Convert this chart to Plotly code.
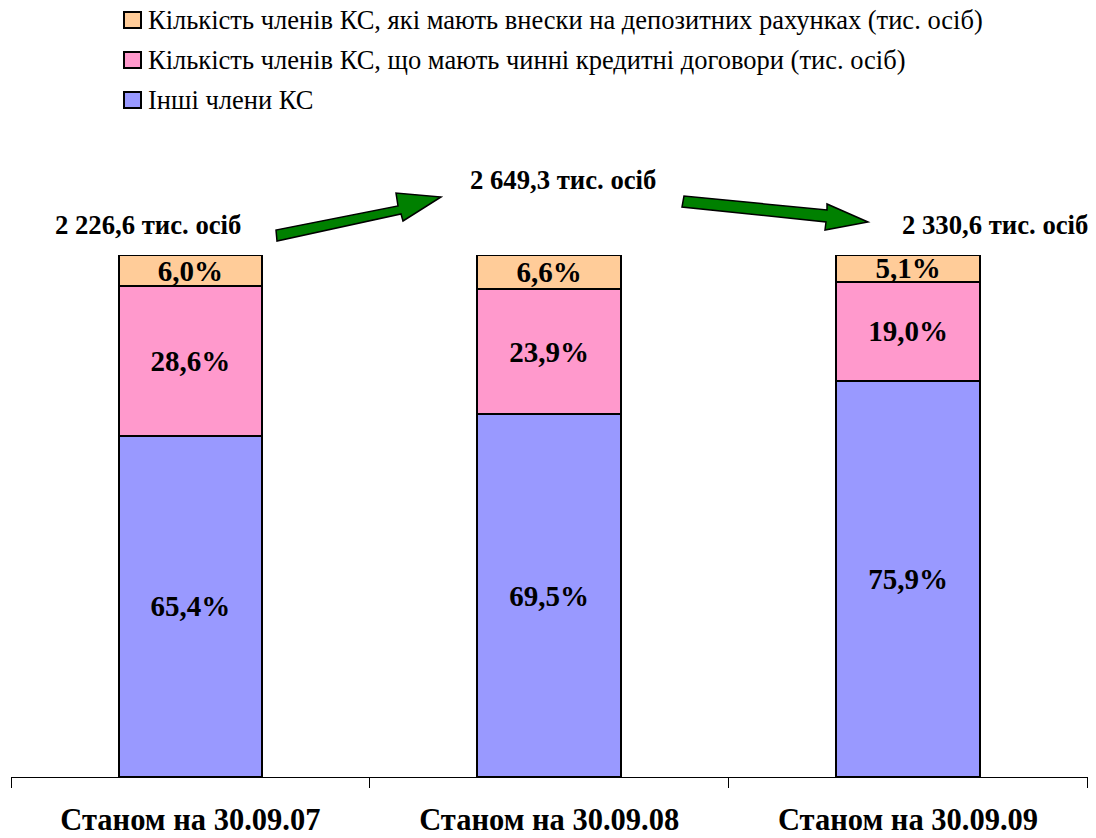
import plotly.graph_objects as go

categories = ["Станом на 30.09.07", "Станом на 30.09.08", "Станом на 30.09.09"]
series_names = [
    "Інші члени КС",
    "Кількість членів КС, що мають чинні кредитні договори (тис. осіб)",
    "Кількість членів КС, які мають внески на депозитних рахунках (тис. осіб)",
]
other_members = [65.4, 69.5, 75.9]
credit_members = [28.6, 23.9, 19.0]
deposit_members = [6.0, 6.6, 5.1]
totals = [2226.6, 2649.3, 2330.6]

colors = ["#9999FF", "#FF99CC", "#FFCC99"]
series_values = [other_members, credit_members, deposit_members]

FONT = "Liberation Serif"

# page has an 8px body margin: figure sized so page is 1096x838
OFF = 8
W, H = 1096 - OFF, 838 - OFF
# plot area in screen pixels: x 11..1090, y 255..777
L, R, T, B = 11 - OFF, 1096 - 1090, 255 - OFF, 838 - 777
pw, ph = W - L - R, H - T - B


def px2paper(x, y):
    """screen pixel -> paper coords"""
    fx, fy = x - OFF, y - OFF
    return (fx - L) / pw, (H - B - fy) / ph


fig = go.Figure()
for name, vals, col in zip(series_names, series_values, colors):
    fig.add_trace(go.Bar(
        x=categories, y=vals, name=name,
        marker=dict(color=col, line=dict(color="black", width=2)),
        texttemplate="<b>%{y:.1f}%</b>", textposition="inside",
        insidetextanchor="middle", constraintext="none",
        textfont=dict(family=FONT, size=29, color="black"),
        showlegend=False,
    ))

# total labels
shifts = [-42, 14, 87]
ypix = [225, 180, 225]
for cat, tot, xs, yp in zip(categories, totals, shifts, ypix):
    txt = f"{tot:,.1f}".replace(",", " ").replace(".", ",") + " тис. осіб"
    fig.add_annotation(x=cat, y=px2paper(0, yp)[1], xref="x", yref="paper",
                       text=f"<b>{txt}</b>", showarrow=False, xshift=xs,
                       yanchor="middle",
                       font=dict(family=FONT, size=26.7, color="black"))

# arrows (decorative)
arrow1 = [(277, 241), (276, 230), (398, 206), (396, 193), (441, 197), (403, 221), (401, 214)]
arrow2 = [(684, 196), (682, 207), (826, 222), (825, 230), (868, 222), (827, 204), (827, 210)]
for poly in (arrow1, arrow2):
    pts = [px2paper(x, y) for x, y in poly]
    path = "M " + " L ".join(f"{a:.5f},{b:.5f}" for a, b in pts) + " Z"
    fig.add_shape(type="path", path=path, xref="paper", yref="paper",
                  fillcolor="#008000", line=dict(color="black", width=1.5))

# manual legend
leg_items = list(zip(series_names, colors))[::-1]
for i, (name, col) in enumerate(leg_items):
    cy = 20 + 40 * i
    x0, y0 = px2paper(124, cy - 8)
    x1, y1 = px2paper(141, cy + 8)
    fig.add_shape(type="rect", x0=x0, x1=x1, y0=y0, y1=y1, xref="paper", yref="paper",
                  fillcolor=col, line=dict(color="black", width=2))
    tx, ty = px2paper(146, cy)
    fig.add_annotation(x=tx, y=ty, xref="paper", yref="paper", text=name,
                       showarrow=False, xanchor="left", yanchor="middle",
                       font=dict(family=FONT, size=26.5, color="black"))

fig.update_layout(
    width=W, height=H,
    margin=dict(l=L, r=R, t=T, b=B, autoexpand=False),
    barmode="stack", bargap=0.6,
    plot_bgcolor="white", paper_bgcolor="white",
    separators=", ",
    showlegend=False,
)
fig.update_xaxes(showline=True, linecolor="black", linewidth=1, automargin=False,
                 ticks="outside", tickson="boundaries", ticklen=10, tickcolor="black",
                 ticklabelstandoff=15,
                 tickfont=dict(family=FONT, size=30.5, color="black"),
                 tickprefix="<b>", ticksuffix="</b>")
fig.update_yaxes(range=[0, 100], visible=False, showgrid=False, automargin=False)

fig.write_html("out.html")
